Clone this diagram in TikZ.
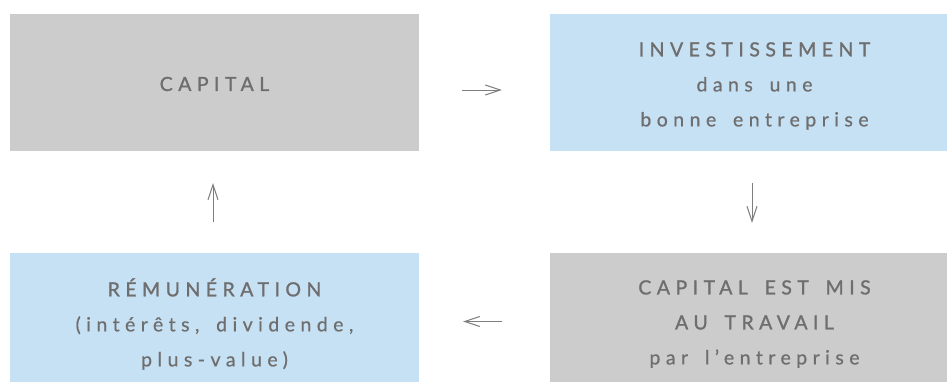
\documentclass[tikz,border=0pt]{standalone}
\usepackage{fontspec}
\setmainfont{Lato}[LetterSpace=28, WordSpace=1.6]
\newfontfamily\capsfont{Lato}[LetterSpace=28, WordSpace=1.6, FakeBold=1.2]
\newfontfamily\lowfont{Lato}[LetterSpace=28, WordSpace=1.6, FakeBold=0.6]
\usetikzlibrary{arrows.meta}
\definecolor{boxgray}{HTML}{CCCCCC}
\definecolor{boxblue}{HTML}{C7E1F4}
\definecolor{txtgray}{HTML}{6E6E6E}
\definecolor{arrgray}{HTML}{7E7E7E}
\tikzset{
  card/.style={rectangle, minimum width=409pt, minimum height=137pt, inner sep=0pt,
    align=center, text=txtgray, font=\fontsize{19.5pt}{35pt}\selectfont\lowfont},
  graycard/.style={card, fill=boxgray},
  bluecard/.style={card, fill=boxblue},
  flow/.style={draw=arrgray, line width=1pt, -{Straight Barb[length=15pt,width=10pt,line width=1pt]}}
}
\begin{document}
\begin{tikzpicture}[x=1pt,y=-1pt]
\useasboundingbox (0,0) rectangle (947,381);
\clip (0,0) rectangle (947,381);
\node[graycard] (A) at (214.5,82.5) {};
\node[bluecard] (B) at (754.5,82.5) {};
\node[graycard] (C) at (754.5,321.5) {};
\node[bluecard] (D) at (214.5,321.5) {};
\node[card, anchor=center] (At) at (214.5,84) {{\capsfont CAPITAL}};
\node[card, anchor=center] (Bt) at (754.5,86) {{\capsfont INVESTISSEMENT}\\dans une\\bonne entreprise};
\node[card, anchor=center] (Ct) at (754.5,324) {{\capsfont CAPITAL EST MIS}\\{\capsfont AU TRAVAIL}\\par l’entreprise};
\node[card, anchor=center] (Dt) at (214.5,324) {{\capsfont RÉMUNÉRATION}\\(intérêts, dividende,\\plus-value)};
\draw[flow, shorten <=43pt, shorten >=48pt] ([yshift=-7.5pt]A.east) -- ([yshift=-7.5pt]B.west);
\draw[flow, shorten <=32pt, shorten >=30pt] ([xshift=-2.5pt]B.south) -- ([xshift=-2.5pt]C.north);
\draw[flow, shorten <=48pt, shorten >=44pt] (C.west) -- (D.east);
\draw[flow, shorten <=31pt, shorten >=32pt] ([xshift=-1.5pt]D.north) -- ([xshift=-1.5pt]A.south);
\end{tikzpicture}
\end{document}
